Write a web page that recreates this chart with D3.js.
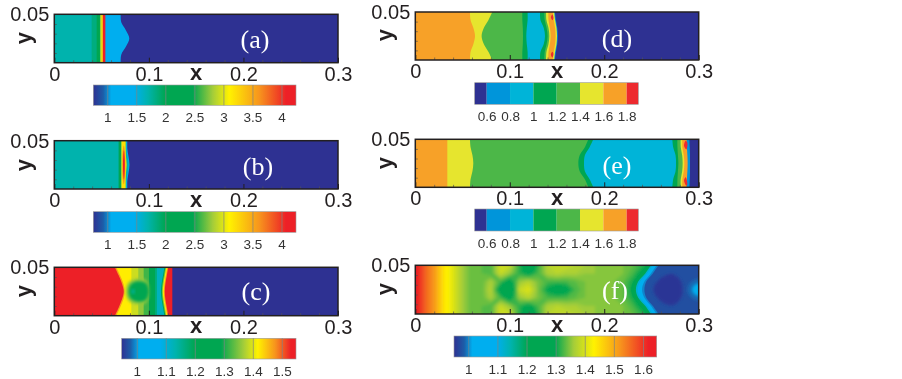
<!DOCTYPE html>
<html lang="en">
<head>
  <meta charset="UTF-8">
  <title>Contours (a)-(f)</title>
  <script src="https://d3js.org/d3.v7.min.js"></script>
  <style>
    html, body { margin: 0; padding: 0; background: #fff; }
    svg { display: block; filter: blur(0.45px); }
    text { font-family: "Liberation Sans", Arial, sans-serif; fill: #231f20; }
    .big text { font-size: 20px; }
    .bar-axis text { font-size: 13.5px; fill: #333; }
    .axis-name { font-size: 22px; font-weight: bold; }
    .tag { font-family: "Liberation Serif", "Times New Roman", serif; font-size: 26px; fill: #fff; }
  </style>
</head>
<body>
<svg width="902" height="379"></svg>
<script type="text/javascript">

// shared ticks
const xTicks = [0, 0.1, 0.2, 0.3];
const xMinor = [0.02, 0.04, 0.06, 0.08, 0.12, 0.14, 0.16, 0.18, 0.22, 0.24, 0.26, 0.28];
const yTicks = [0.05];
const yMinor = [0.01, 0.02, 0.03, 0.04];

// y levels where an edge is read: wall to centre, the flow is mirrored about y=0.025
const edgeY = [0, 0.0083, 0.0167, 0.025, 0.0333, 0.0417, 0.05];

// colour bar ramp of (a), (b), (c), (f)
const rampColors = ["#2e3192", "#1c5da8", "#00aeef", "#00aeef", "#00b3ad", "#00a651", "#00a651", "#a5cd39", "#fff200", "#f7941d", "#ed2027", "#ed2027"];
const rampA = [0.76, 0.93, 1.07, 1.46, 1.7, 2.0, 2.47, 2.82, 3.1, 3.62, 4.08, 4.25];
const rampC = [0.948, 0.978, 1.008, 1.08, 1.134, 1.2, 1.29, 1.369, 1.417, 1.477, 1.531, 1.549];
const rampF = [0.951, 0.986, 1.014, 1.097, 1.146, 1.202, 1.299, 1.362, 1.431, 1.522, 1.619, 1.647];

// banded colour bar of (d), (e)
const bandSteps = [0.6, 0.8, 1, 1.2, 1.4, 1.6, 1.8];
const bandColors = ["#2e3192", "#0095da", "#00b4d8", "#00a651", "#4cb748", "#e6e52e", "#f7a128", "#ed2a2e"];
const bandRange = [0.497, 1.9];

const ticksA = [1, 1.5, 2, 2.5, 3, 3.5, 4];
const ticksC = [1, 1.1, 1.2, 1.3, 1.4, 1.5];
const ticksF = [1, 1.1, 1.2, 1.3, 1.4, 1.5, 1.6];

// (a)
const levelsA = [1.7, 1.85, 2.2, 2.8, 3.2, 3.6, 4.1, 1.25, 0.76];
const edgesA = [
  [0, 0, 0, 0],
  [0.0395, 0.0395, 0.0395, 0.0395],
  [0.0448, 0.0448, 0.0448, 0.0448],
  [0.0483, 0.0483, 0.0483, 0.0483],
  [0.0497, 0.0497, 0.0497, 0.0497],
  [0.0508, 0.0508, 0.0508, 0.0508],
  [0.0515, 0.0515, 0.0515, 0.0515],
  [0.054, 0.054, 0.054, 0.054],
  [0.0702, 0.0708, 0.0758, 0.0793]
];

// (b)
const levelsB = [1.7, 2.25, 2.8, 3.2, 1.7, 1.25, 0.76];
const edgesB = [
  [0, 0, 0, 0],
  [0.068, 0.068, 0.068, 0.068],
  [0.0705, 0.0705, 0.0705, 0.0705],
  [0.0715, 0.0715, 0.0715, 0.0715],
  [0.0755, 0.0755, 0.0758, 0.0765],
  [0.0762, 0.0762, 0.0775, 0.0785],
  [0.0772, 0.0772, 0.0785, 0.0795]
];
const blobLevelsB = [3.6, 4.1];
const blobsB = [
  [[0.0719, 0.025], [0.0722, 0.012], [0.0735, 0.005], [0.0748, 0.012], [0.0751, 0.025], [0.0748, 0.038], [0.0735, 0.045], [0.0722, 0.038]],
  [[0.0726, 0.025], [0.0729, 0.016], [0.0736, 0.01], [0.0743, 0.016], [0.0746, 0.025], [0.0743, 0.034], [0.0736, 0.04], [0.0729, 0.034]]
];

// (c)
const levelsC = [1.535, 1.47, 1.42, 1.39, 1.36, 1.32, 1.24, 1.17, 1.12, 1.25, 1.35, 1.42, 1.47, 1.535, 0.948];
const edgesC = [
  [0, 0, 0, 0],
  [0.064, 0.068, 0.0715, 0.0735],
  [0.0655, 0.0695, 0.073, 0.0745],
  [0.0815, 0.0815, 0.0815, 0.0815],
  [0.0888, 0.0888, 0.0888, 0.0888],
  [0.0945, 0.0945, 0.0945, 0.0945],
  [0.1001, 0.1001, 0.1001, 0.1001],
  [0.1065, 0.1065, 0.1065, 0.1065],
  [0.1085, 0.1085, 0.1085, 0.1085],
  [0.1165, 0.115, 0.1135, 0.1128],
  [0.1175, 0.116, 0.1145, 0.1138],
  [0.1185, 0.117, 0.1155, 0.1148],
  [0.1195, 0.118, 0.1165, 0.1158],
  [0.1205, 0.119, 0.1175, 0.1168],
  [0.1248, 0.1248, 0.1248, 0.1248]
];
const softLevelsC = [1.36, 1.27, 1.14];
const softBlobsC = [
  [[0.0755, 0.025], [0.0785, 0.0345], [0.088, 0.0385], [0.097, 0.0365], [0.1, 0.025], [0.097, 0.0135], [0.088, 0.0115], [0.0785, 0.0155]],
  [[0.0785, 0.025], [0.081, 0.0325], [0.088, 0.0355], [0.097, 0.0335], [0.1, 0.025], [0.097, 0.0165], [0.088, 0.0145], [0.081, 0.0175]],
  [[0.0815, 0.025], [0.0835, 0.0275], [0.085, 0.025], [0.0835, 0.0225]]
];

// (d)
const levelsD = [1.7, 1.5, 1.3, 1.1, 0.9, 1.1, 1.3, 1.5, 1.7, 1.5, 0.7, 0.5];
const edgesD = [
  [0, 0, 0, 0],
  [0.0579, 0.0585, 0.0615, 0.0632],
  [0.0815, 0.0775, 0.0725, 0.0702],
  [0.1133, 0.1133, 0.1138, 0.114],
  [0.1189, 0.1189, 0.118, 0.1175],
  [0.132, 0.1325, 0.136, 0.1373],
  [0.1366, 0.137, 0.139, 0.1401],
  [0.1384, 0.1388, 0.141, 0.1419],
  [0.1408, 0.141, 0.1425, 0.1433],
  [0.1455, 0.1465, 0.148, 0.1485],
  [0.147, 0.148, 0.1495, 0.15],
  [0.1478, 0.1488, 0.1503, 0.1508]
];
const blobLevelsD = [1.9, 1.9];
const blobsD = [
  [[0.1435, 0.0445], [0.1452, 0.0475], [0.1462, 0.0435], [0.1452, 0.0415]],
  [[0.1435, 0.0055], [0.1452, 0.0085], [0.1462, 0.0065], [0.1452, 0.0025]]
];

// (e)
const levelsE = [1.7, 1.5, 1.3, 1.1, 0.9, 1.1, 1.3, 1.5, 1.7, 0.7, 0.5];
const edgesE = [
  [0, 0, 0, 0],
  [0.0339, 0.0339, 0.0339, 0.0339],
  [0.0579, 0.0585, 0.0605, 0.0614],
  [0.1832, 0.1795, 0.174, 0.1726],
  [0.1885, 0.1845, 0.1795, 0.1786],
  [0.2721, 0.273, 0.2755, 0.276],
  [0.2774, 0.2775, 0.278, 0.2785],
  [0.2809, 0.281, 0.2825, 0.283],
  [0.2826, 0.2827, 0.2842, 0.2848],
  [0.2872, 0.2875, 0.288, 0.2883],
  [0.2902, 0.2905, 0.2908, 0.2908]
];
const blobLevelsE = [1.9, 1.9];
const blobsE = [
  [[0.2845, 0.043], [0.2862, 0.0485], [0.288, 0.0465], [0.287, 0.0395]],
  [[0.2845, 0.007], [0.2862, 0.0105], [0.288, 0.0035], [0.287, 0.0015]]
];

// (f) smooth part, values read every 0.01 in x, wall to centre
const gridXF = d3.range(27).map(i => i / 100);
const gridYF = [0, 0.0083, 0.0167, 0.025];
const gridF = [
  [1.64, 1.57, 1.52, 1.45, 1.41, 1.365, 1.34, 1.34, 1.33, 1.40, 1.39, 1.32, 1.24, 1.32, 1.38, 1.39, 1.39, 1.38, 1.37, 1.36, 1.35, 1.35, 1.35, 1.34, 1.32, 1.30, 1.30],
  [1.64, 1.57, 1.52, 1.45, 1.41, 1.365, 1.34, 1.34, 1.33, 1.39, 1.36, 1.32, 1.29, 1.33, 1.37, 1.38, 1.37, 1.37, 1.36, 1.36, 1.35, 1.35, 1.35, 1.33, 1.29, 1.28, 1.28],
  [1.64, 1.57, 1.52, 1.45, 1.41, 1.365, 1.34, 1.34, 1.37, 1.33, 1.28, 1.36, 1.38, 1.35, 1.33, 1.33, 1.33, 1.34, 1.35, 1.35, 1.35, 1.35, 1.34, 1.31, 1.27, 1.27, 1.27],
  [1.64, 1.57, 1.52, 1.45, 1.41, 1.365, 1.34, 1.34, 1.38, 1.27, 1.21, 1.39, 1.41, 1.35, 1.30, 1.27, 1.29, 1.33, 1.35, 1.35, 1.35, 1.35, 1.34, 1.30, 1.26, 1.26, 1.26]
];
const levelsF = [1.27, 1.2, 1.12, 1.05, 1.0, 0.975];
const edgesF = [
  [0.2445, 0.2385, 0.231, 0.2285],
  [0.2475, 0.2415, 0.234, 0.2315],
  [0.2495, 0.2435, 0.236, 0.2335],
  [0.2513, 0.2455, 0.238, 0.2354],
  [0.2555, 0.2495, 0.2425, 0.24],
  [0.2575, 0.2515, 0.2445, 0.2425]
];
const softLevelsF = [0.955, 0.99, 1.03];
const softBlobsF = [
  [[0.252, 0.025], [0.26, 0.037], [0.272, 0.041], [0.281, 0.034], [0.283, 0.025], [0.281, 0.016], [0.272, 0.009], [0.26, 0.013]],
  [[0.288, 0.025], [0.292, 0.033], [0.302, 0.036], [0.302, 0.014], [0.292, 0.017]],
  [[0.293, 0.025], [0.296, 0.03], [0.302, 0.031], [0.302, 0.019], [0.296, 0.02]]
];

const rampColor = ramp => d3.scaleLinear().domain(ramp).range(rampColors).clamp(true);
const bandColor = d3.scaleThreshold().domain(bandSteps).range(bandColors);

const panels = [
  {tag: "(a)", left: 54.3, right: 338, top: 14.3, bottom: 62.7, nameY: 38, levels: levelsA, edges: edgesA, color: rampColor(rampA), ramp: rampA, ticks: ticksA,
   bar: [93.3, 296, 85, 105.3], tagX: 255, tagY: 48},
  {tag: "(b)", left: 54.3, right: 338, top: 140.7, bottom: 189, nameY: 165, levels: levelsB, edges: edgesB, blobLevels: blobLevelsB, blobs: blobsB, color: rampColor(rampA), ramp: rampA, ticks: ticksA,
   bar: [93.3, 296, 211.7, 232.3], tagX: 258, tagY: 175},
  {tag: "(c)", left: 54.3, right: 338, top: 267.3, bottom: 315.7, nameY: 291, levels: levelsC, edges: edgesC, softLevels: softLevelsC, softBlobs: softBlobsC, color: rampColor(rampC), ramp: rampC, ticks: ticksC,
   bar: [121.7, 296, 338.3, 359], tagX: 256, tagY: 300},
  {tag: "(d)", left: 415.3, right: 698.7, top: 12, bottom: 60, nameY: 35, levels: levelsD, edges: edgesD, blobLevels: blobLevelsD, blobs: blobsD, color: bandColor, ticks: bandSteps,
   bar: [474.7, 638.3, 82.7, 104.3], tagX: 617, tagY: 47},
  {tag: "(e)", left: 415.3, right: 698.7, top: 139.3, bottom: 187.3, nameY: 163, levels: levelsE, edges: edgesE, blobLevels: blobLevelsE, blobs: blobsE, color: bandColor, ticks: bandSteps,
   bar: [474.7, 638.3, 209, 231], tagX: 617, tagY: 174},
  {tag: "(f)", left: 415.3, right: 698.7, top: 265.3, bottom: 314, nameY: 289, levels: levelsF, edges: edgesF, softLevels: softLevelsF, softBlobs: softBlobsF, color: rampColor(rampF), ramp: rampF, ticks: ticksF,
   grid: gridF, gridX: gridXF, gridY: gridYF, thresholds: d3.range(0.95, 1.66, 0.01),
   bar: [454, 656.7, 336, 357], tagX: 615, tagY: 299}
];

const svg = d3.select("svg");
const defs = svg.append("defs");
defs.append("filter").attr("id", "soft").attr("x", "-20%").attr("y", "-20%").attr("width", "140%").attr("height", "140%")
  .append("feGaussianBlur").attr("stdDeviation", 1.4);

panels.forEach((p, i) => {
  const g = svg.append("g");
  const x = d3.scaleLinear().domain([0, 0.3]).range([p.left, p.right]);
  const y = d3.scaleLinear().domain([0, 0.05]).range([p.bottom, p.top]);

  defs.append("clipPath").attr("id", "plot" + i).append("rect")
    .attr("x", p.left).attr("y", p.top).attr("width", p.right - p.left).attr("height", p.bottom - p.top);
  const field = g.append("g").attr("clip-path", `url(#plot${i})`);

  // smooth part, real contours of the grid. Drawn sharp, then again softened on top
  if (p.grid) {
    const rows = p.grid.concat(p.grid.slice(0, -1).reverse());
    const ys = p.gridY.concat(p.gridY.slice(0, -1).reverse().map(v => 0.05 - v));
    const nx = p.gridX.length, ny = rows.length;
    const gx = d3.scaleLinear().domain([0.5, nx - 0.5]).range([p.gridX[0], p.gridX[nx - 1]]);
    const gy = d3.scaleLinear().domain([0.5, ny - 0.5]).range([ys[0], ys[ny - 1]]);
    const path = d3.geoPath(d3.geoTransform({
      point(a, b) { this.stream.point(x(gx(a)), y(gy(b))); }
    }));
    const isos = d3.contours().size([nx, ny]).smooth(true).thresholds(p.thresholds)(rows.flat());
    [field.append("g"), field.append("g").attr("filter", "url(#soft)")].forEach(layer => {
      layer.selectAll(".iso").data(isos)
        .join("path").attr("class", "iso")
        .attr("d", path)
        .attr("fill", d => p.color(d.value))
        .attr("stroke", d => p.color(d.value))
        .attr("stroke-width", 0.4);
    });
  }

  // each level fills from its edge to the outlet, later ones paint over
  const area = d3.area()
    .curve(d3.curveCatmullRom.alpha(0.5))
    .x0(d => x(d[0]))
    .x1(p.right + 2)
    .y(d => y(d[1]));
  field.selectAll(".level").data(p.levels)
    .join("path").attr("class", "level")
    .attr("fill", d => p.color(d))
    .attr("d", (d, k) => {
      const half = p.edges[k];
      const full = half.concat(half.slice(0, 3).reverse());
      return area(full.map((v, n) => [v, edgeY[n]]));
    });

  const loop = d3.line().curve(d3.curveCatmullRomClosed.alpha(0.5)).x(d => x(d[0])).y(d => y(d[1]));
  if (p.blobs) {
    field.selectAll(".blob").data(p.blobs)
      .join("path").attr("class", "blob")
      .attr("d", loop)
      .attr("fill", (d, k) => p.color(p.blobLevels[k]));
  }
  if (p.softBlobs) {
    field.selectAll(".soft-blob").data(p.softBlobs)
      .join("path").attr("class", "soft-blob")
      .attr("d", loop)
      .attr("filter", "url(#soft)")
      .attr("fill", (d, k) => p.color(p.softLevels[k]));
  }

  g.append("text").attr("class", "tag").attr("x", p.tagX).attr("y", p.tagY)
    .attr("text-anchor", "middle").text(p.tag);

  // axes
  const big = g.append("g").attr("class", "big");
  const xAxis = big.append("g").attr("transform", `translate(0,${p.bottom})`)
    .call(d3.axisBottom(x).tickValues(xTicks).tickSize(-5).tickFormat(d => d === 0 ? "0" : d3.format(".1f")(d)));
  xAxis.select(".domain").remove();
  xAxis.selectAll("line").attr("stroke", "#231f20").attr("stroke-width", 1);
  xAxis.selectAll("text").attr("y", 18).attr("dy", 0);

  const xSmall = big.append("g").attr("transform", `translate(0,${p.bottom})`)
    .call(d3.axisBottom(x).tickValues(xMinor).tickSize(-2.5).tickFormat(""));
  xSmall.select(".domain").remove();
  xSmall.selectAll("line").attr("stroke", "#555").attr("stroke-width", 0.7);

  const yAxis = big.append("g").attr("transform", `translate(${p.left},0)`)
    .call(d3.axisLeft(y).tickValues(yTicks).tickSize(0).tickPadding(5).tickFormat(d3.format(".2f")));
  yAxis.select(".domain").remove();

  const ySmall = big.append("g").attr("transform", `translate(${p.left},0)`)
    .call(d3.axisLeft(y).tickValues(yMinor).tickSize(-2.5).tickFormat(""));
  ySmall.select(".domain").remove();
  ySmall.selectAll("line").attr("stroke", "#555").attr("stroke-width", 0.7);

  g.append("rect").attr("x", p.left).attr("y", p.top)
    .attr("width", p.right - p.left).attr("height", p.bottom - p.top)
    .attr("fill", "none").attr("stroke", "#231f20").attr("stroke-width", 1.5);

  g.append("text").attr("class", "axis-name").attr("text-anchor", "middle")
    .attr("x", x(0.15)).attr("y", p.bottom + 17.5).text("x");
  g.append("text").attr("class", "axis-name").attr("text-anchor", "middle")
    .attr("transform", `translate(${p.left - 23.5},${p.nameY}) rotate(-90)`).text("y");

  // colour bar
  const [bx0, bx1, by0, by1] = p.bar;
  const b = d3.scaleLinear().range([bx0, bx1]);
  if (p.ramp) {
    b.domain([p.ramp[0], p.ramp[p.ramp.length - 1]]);
    const grad = defs.append("linearGradient").attr("id", "ramp" + i);
    grad.selectAll("stop").data(p.ramp).join("stop")
      .attr("offset", d => (b(d) - bx0) / (bx1 - bx0))
      .attr("stop-color", (d, k) => rampColors[k]);
    g.append("rect").attr("x", bx0).attr("y", by0).attr("width", bx1 - bx0).attr("height", by1 - by0)
      .attr("fill", `url(#ramp${i})`);
  } else {
    b.domain(bandRange);
    const stops = [bandRange[0], ...bandSteps, bandRange[1]];
    g.selectAll(".band").data(bandColors).join("rect").attr("class", "band")
      .attr("x", (d, k) => b(stops[k])).attr("y", by0)
      .attr("width", (d, k) => b(stops[k + 1]) - b(stops[k])).attr("height", by1 - by0)
      .attr("fill", d => d);
  }
  g.append("rect").attr("x", bx0).attr("y", by0).attr("width", bx1 - bx0).attr("height", by1 - by0)
    .attr("fill", "none").attr("stroke", "#999").attr("stroke-width", 0.6);

  const barAxis = g.append("g").attr("class", "bar-axis").attr("transform", `translate(0,${by1})`)
    .call(d3.axisBottom(b).tickValues(p.ticks).tickSize(p.ramp ? -(by1 - by0) : 0).tickFormat(d => d));
  barAxis.select(".domain").remove();
  barAxis.selectAll("line").attr("stroke", "#808285").attr("stroke-width", 0.7);
  barAxis.selectAll("text").attr("y", 17).attr("dy", 0);
});

</script>
</body>
</html>
